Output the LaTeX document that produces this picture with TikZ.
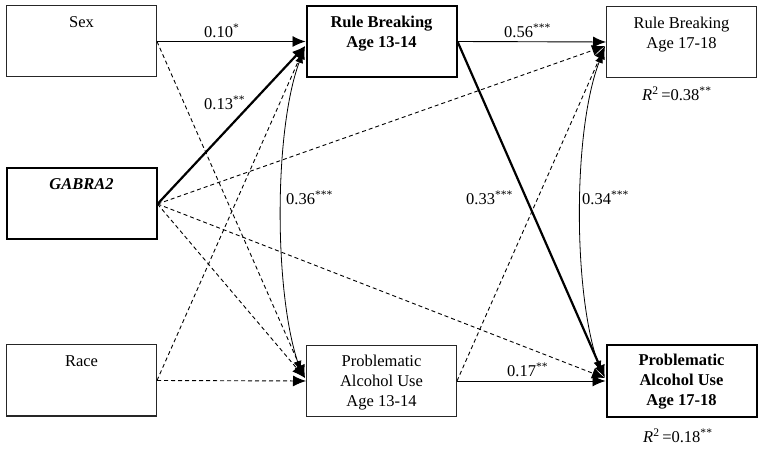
\documentclass[tikz,border=0pt]{standalone}
\usepackage{fontspec}
\setmainfont{Liberation Serif}
\usetikzlibrary{arrows.meta}
\begin{document}
\begin{tikzpicture}[x=1pt,y=-1pt,
  box/.style={draw=black!85,line width=1pt,minimum width=150pt,minimum height=71pt,inner sep=0pt},
  thickbox/.style={box,draw=black,line width=2pt},
  ttl/.style={anchor=north,inner sep=0pt,align=center,font=\fontsize{16.5}{20}\selectfont},
  lbl/.style={anchor=west,inner sep=0pt,font=\fontsize{16.5}{20}\selectfont},
  path/.style={line width=0.9pt,draw=black,-{Latex[length=13pt,width=11pt]}},
  sig/.style={path,line width=2.2pt,-{Latex[length=13pt,width=11pt]}},
  ns/.style={path,dash pattern=on 4pt off 3pt},
  cov/.style={line width=0.8pt,draw=black,{Latex[length=11pt,width=8pt]}-{Latex[length=11pt,width=8pt]}}
]
\useasboundingbox (0,0) rectangle (764,449);
% boxes
\node[box] (sex) at (81.5,41.5) {};
\node[thickbox] (gab) at (81.5,204) {};
\node[box] (race) at (81.5,380.5) {};
\node[thickbox] (rb13) at (381.5,41.5) {};
\node[box] (pau13) at (381.5,381) {};
\node[box] (rb17) at (681.5,42) {};
\node[thickbox] (pau17) at (681.5,381) {};
% titles
\node[ttl] (sext) at ([yshift=-10.5pt]sex.north) {Sex};
\node[ttl] (gabt) at ([yshift=-10.5pt]gab.north) {\textbf{\textit{GABRA2}}};
\node[ttl] (racet) at ([yshift=-10.5pt]race.north) {Race};
\node[ttl] (rb13t) at ([yshift=-10.5pt]rb13.north) {\textbf{Rule Breaking}\\\textbf{Age 13-14}};
\node[ttl] (pau13t) at ([yshift=-9.5pt]pau13.north) {Problematic\\Alcohol Use\\Age 13-14};
\node[ttl] (rb17t) at ([yshift=-10.5pt]rb17.north) {Rule Breaking\\Age 17-18};
\node[ttl] (pau17t) at ([yshift=-9.5pt]pau17.north) {\textbf{Problematic}\\\textbf{Alcohol Use}\\\textbf{Age 17-18}};
% tip points
\coordinate (t1) at (305,46);
\coordinate (t2) at (305,378);
\coordinate (t3) at (605,46);
\coordinate (t4) at (605,378);
% paths
\draw[ns] (sex.east) -- (t2);
\draw[ns] (gab.east) -- (t2);
\draw[ns] (race.east) -- (t1);
\draw[ns] (race.east) -- (pau13.west);
\draw[ns] (gab.east) -- (t3);
\draw[ns] (gab.east) -- (t4);
\draw[ns] (pau13.east) -- (t3);
\draw[path] (sex.east) -- (rb13.west);
\draw[sig] (gab.east) -- (t1);
\draw[path] (rb13.east) -- (rb17.west);
\draw[sig] (rb13.east) -- (t4);
\draw[path] (pau13.east) -- (pau17.west);
% covariances
\coordinate (c1a) at (303,52);
\coordinate (c1b) at (301,372);
\coordinate (c2a) at (603,52);
\coordinate (c2b) at (601,372);
\draw[cov] (c1a) .. controls (274,130) and (274,290) .. (c1b);
\draw[cov] (c2a) .. controls (573,130) and (573,290) .. (c2b);
% labels
\node[lbl] (l1) at (204,31) {0.10\textsuperscript{*}};
\node[lbl] (l2) at (204,103) {0.13\textsuperscript{**}};
\node[lbl] (l3) at (286,198) {0.36\textsuperscript{***}};
\node[lbl] (l4) at (504,31) {0.56\textsuperscript{***}};
\node[lbl] (l5) at (466,198) {0.33\textsuperscript{***}};
\node[lbl] (l6) at (582,198) {0.34\textsuperscript{***}};
\node[lbl] (l7) at (507,370) {0.17\textsuperscript{**}};
\node[lbl] (r1) at (642,94) {\textit{R}\textsuperscript{2}\,=0.38\textsuperscript{**}};
\node[lbl] (r2) at (643,436) {\textit{R}\textsuperscript{2}\,=0.18\textsuperscript{**}};
\end{tikzpicture}
\end{document}
